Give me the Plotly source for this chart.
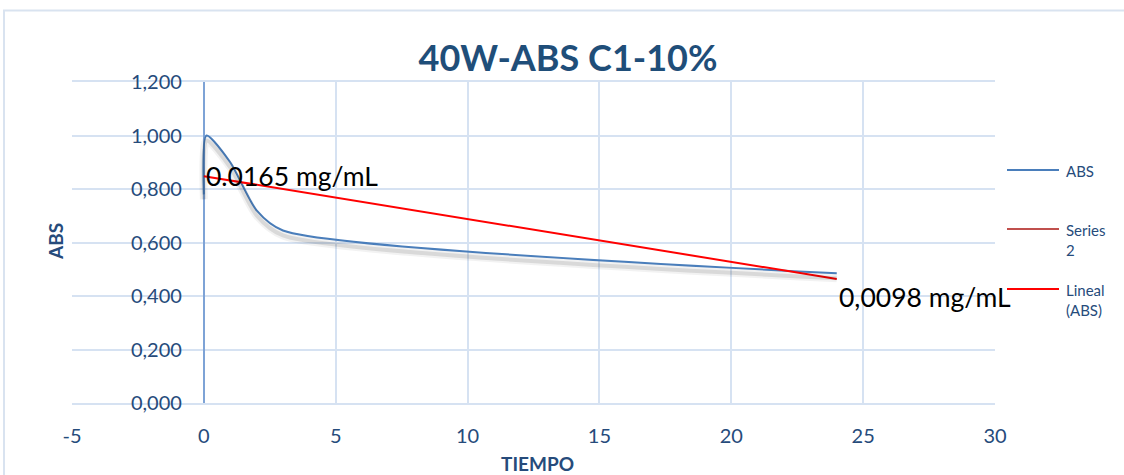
import plotly.graph_objects as go

# Absorbance readings over time
tiempo = [0, 0.1, 1, 2, 3, 24]
abs_vals = [0.78, 1.0, 0.9, 0.72, 0.645, 0.485]

# Linear trend line "Lineal (ABS)" at the start and end of the series
trend_x = [0, 24]
trend_y = [0.848, 0.4635]

x_ticks = [-5, 0, 5, 10, 15, 20, 25, 30]
x_tick_text = ["-5", "0", "5", "10", "15", "20", "25", "30"]
y_ticks = [0.0, 0.2, 0.4, 0.6, 0.8, 1.0, 1.2]

label_start = "0.0165 mg/mL"
label_end = "0,0098 mg/mL"

legend_names = ["ABS", "Series<br>2", "Lineal<br>(ABS)"]
legend_colors = ["#4A7EBB", "#C0504D", "#FF0000"]

W, H = 1124, 475
L, R, T, B = 72, 129, 82, 72
PW, PH = W - L - R, H - T - B


def px(xp):
    return (xp - L) / PW


def py(yp):
    return (H - B - yp) / PH


FONT = "Lato"
TEXT_BLUE = "#264B7B"
GRID = "#D6E2F2"
SMOOTH = 0.7

fig = go.Figure()

# soft drop shadow under the ABS curve (same data on a slightly offset axis)
for w, a in [(8, 0.05), (4, 0.10)]:
    fig.add_trace(go.Scatter(
        x=tiempo, y=abs_vals, mode="lines", yaxis="y2",
        line=dict(color=f"rgba(0,0,0,{a})", width=w, shape="spline", smoothing=SMOOTH),
        hoverinfo="skip", showlegend=False,
    ))

fig.add_trace(go.Scatter(
    x=tiempo, y=abs_vals, mode="lines", name="ABS",
    line=dict(color=legend_colors[0], width=2, shape="spline", smoothing=SMOOTH),
    showlegend=False,
))

fig.add_trace(go.Scatter(
    x=trend_x, y=trend_y, mode="lines", name="Lineal (ABS)",
    line=dict(color=legend_colors[2], width=2),
    showlegend=False,
))

fig.add_annotation(x=trend_x[0], y=trend_y[0], text=label_start, showarrow=False,
                   xanchor="left", yanchor="middle",
                   font=dict(family=FONT, size=26.5, color="#000000"))
fig.add_annotation(x=trend_x[1], y=trend_y[1] - 0.068, text=label_end, showarrow=False,
                   xanchor="left", yanchor="middle",
                   font=dict(family=FONT, size=26.5, color="#000000"))

# axis titles
fig.add_annotation(xref="paper", yref="paper", x=px(55), y=py(242), text="<b>ABS</b>",
                   textangle=-90, showarrow=False, xanchor="center", yanchor="middle",
                   font=dict(family=FONT, size=19, color=TEXT_BLUE))
fig.add_annotation(xref="paper", yref="paper", x=px(537), y=py(464), text="<b>TIEMPO</b>",
                   showarrow=False, xanchor="center", yanchor="middle",
                   font=dict(family=FONT, size=19, color=TEXT_BLUE))

# legend
legend_rows = [170, 229, 289]
for name, color, yl in zip(legend_names, legend_colors, legend_rows):
    fig.add_shape(type="line", xref="paper", yref="paper",
                  x0=px(1007), x1=px(1059), y0=py(yl), y1=py(yl),
                  line=dict(color=color, width=2))
    fig.add_annotation(xref="paper", yref="paper", x=px(1064), y=py(yl - 10),
                       text=name, showarrow=False, xanchor="left", yanchor="top",
                       align="left",
                       font=dict(family=FONT, size=15, color=TEXT_BLUE))

# outer chart frame
fig.add_shape(type="rect", xref="paper", yref="paper",
              x0=px(4), x1=px(1135), y0=py(490), y1=py(10.5),
              line=dict(color="#D9E3F0", width=2), layer="below")

shadow_off = 5 / PH * 1.2

fig.update_layout(
    width=W, height=H, autosize=False,
    margin=dict(l=L, r=R, t=T, b=B),
    paper_bgcolor="white", plot_bgcolor="white",
    separators=",.",
    title=dict(text="<b>40W-ABS C1-10%</b>", x=568 / W, y=1 - 58 / H,
               xanchor="center", yanchor="middle",
               font=dict(family=FONT, size=36, color="#1F4E79")),
    xaxis=dict(range=[-5, 30], tickvals=x_ticks, ticktext=x_tick_text,
               showgrid=True, gridcolor=GRID,
               gridwidth=1.5, zeroline=True, zerolinecolor="#7EA3D6", zerolinewidth=2,
               showline=True, mirror=True, linecolor=GRID, linewidth=1.5,
               ticks="", ticklabelstandoff=14,
               tickfont=dict(family=FONT, size=20, color=TEXT_BLUE)),
    yaxis=dict(range=[0, 1.2], tickvals=y_ticks, tickformat=".3f", showgrid=True,
               gridcolor=GRID, gridwidth=1.5, zeroline=False,
               anchor="free", position=5 / 35, showline=False,
               ticks="", ticklabelstandoff=22,
               tickfont=dict(family=FONT, size=20, color=TEXT_BLUE)),
    yaxis2=dict(range=[shadow_off, 1.2 + shadow_off], overlaying="y", visible=False),
    showlegend=False,
)

fig.write_html("out.html")
